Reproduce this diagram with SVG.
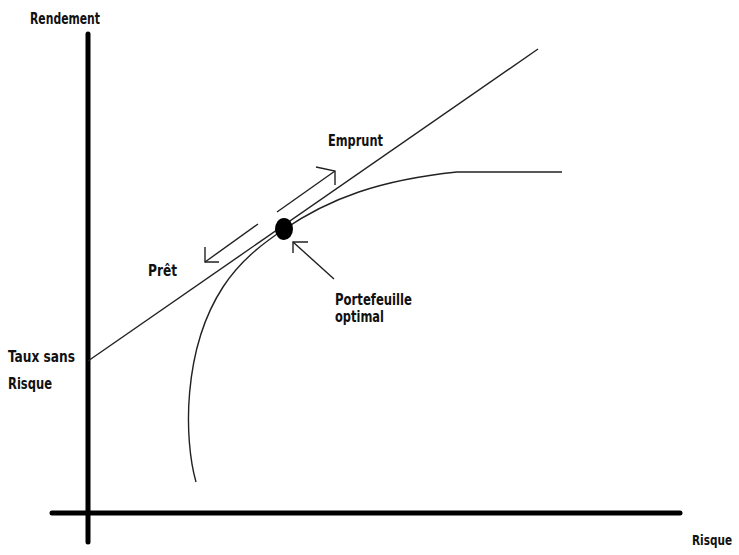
<svg xmlns="http://www.w3.org/2000/svg" width="739" height="555" viewBox="0 0 739 555">
<style>
.t{font-family:"DejaVu Sans Condensed","DejaVu Sans",sans-serif;font-weight:bold;font-size:15.5px;fill:#111}
.ax{stroke:#000;stroke-width:5;stroke-linecap:round;fill:none}
.ln{stroke:#222;stroke-width:1.4;fill:none}
</style>
<rect width="739" height="555" fill="#fff"/>
<g id="axes">
<line class="ax" x1="88" y1="34" x2="88" y2="542"/>
<line class="ax" x1="52" y1="513" x2="680" y2="513"/>
</g>
<g id="connectors">
<line class="ln" x1="88" y1="361" x2="538" y2="49"/>
<path class="ln" d="M196,482 C184,440 182,350 223,287 C240,261 262,244 283,230 C330,198 380,180 457,172 L562,172"/>
<line class="ln" x1="277" y1="212" x2="335" y2="171"/>
<polyline class="ln" points="316,167 335,171 335,185"/>
<line class="ln" x1="258" y1="224" x2="205" y2="262"/>
<polyline class="ln" points="205,247 205,262 219,262"/>
<line class="ln" x1="293" y1="242" x2="334" y2="279"/>
<polyline class="ln" points="308,242 293,242 293,253"/>
</g>
<g id="portefeuille-optimal-point"><ellipse cx="284" cy="229" rx="9" ry="11" fill="#000"/></g>
<g id="labels">
<text class="t" x="30" y="24" textLength="70" lengthAdjust="spacingAndGlyphs">Rendement</text>
<text class="t" x="328" y="146" textLength="55" lengthAdjust="spacingAndGlyphs">Emprunt</text>
<text class="t" x="148" y="276" textLength="29" lengthAdjust="spacingAndGlyphs">Prêt</text>
<text class="t" x="335" y="305" textLength="77" lengthAdjust="spacingAndGlyphs">Portefeuille</text>
<text class="t" x="335" y="322" textLength="49" lengthAdjust="spacingAndGlyphs">optimal</text>
<text class="t" x="8" y="362" textLength="67" lengthAdjust="spacingAndGlyphs">Taux sans</text>
<text class="t" x="8" y="389" textLength="44" lengthAdjust="spacingAndGlyphs">Risque</text>
<text class="t" x="692" y="545" style="font-size:14px" textLength="40" lengthAdjust="spacingAndGlyphs">Risque</text>
</g>
</svg>
